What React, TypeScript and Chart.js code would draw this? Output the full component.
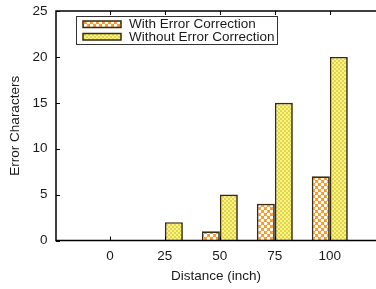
import React, { useEffect, useRef } from 'react';
import { Chart, registerables } from 'chart.js';

Chart.register(...registerables);

const categories = [0, 25, 50, 75, 100];
const withCorrection = [0, 0, 1, 4, 7];
const withoutCorrection = [0, 2, 5, 15, 20];
const yTicks = [0, 5, 10, 15, 20, 25];
const seriesLabels = ['With Error Correction', 'Without Error Correction'];
const xTitle = 'Distance (inch)';
const yTitle = 'Error Characters';

const FONT = 'Liberation Sans, Arial, sans-serif';
const TEXT = '#1a1a1a';
const BORDER = '#3a2a10';

function makeOrangePattern(): CanvasPattern | string {
  const c = document.createElement('canvas');
  c.width = 6;
  c.height = 6;
  const g = c.getContext('2d');
  if (!g) return '#f5a540';
  g.fillStyle = '#f39a28';
  g.fillRect(0, 0, 6, 6);
  g.fillStyle = '#ffffff';
  const pts = [[1.5, 1.5], [4.5, 4.5]];
  for (const [px, py] of pts) {
    g.beginPath();
    g.arc(px, py, 1.75, 0, Math.PI * 2);
    g.fill();
  }
  return g.createPattern(c, 'repeat') || '#f5a540';
}

function makeYellowPattern(): CanvasPattern | string {
  const c = document.createElement('canvas');
  c.width = 4;
  c.height = 4;
  const g = c.getContext('2d');
  if (!g) return '#e8df50';
  g.fillStyle = '#e4d836';
  g.fillRect(0, 0, 4, 4);
  g.fillStyle = '#f6f09a';
  g.fillRect(0, 0, 2, 2);
  g.fillRect(2, 2, 2, 2);
  return g.createPattern(c, 'repeat') || '#e8df50';
}

export default function App() {
  const ref = useRef<HTMLCanvasElement | null>(null);

  useEffect(() => {
    if (!ref.current) return;
    const orange = makeOrangePattern();
    const yellow = makeYellowPattern();
    const fills = [orange, yellow];

    const framePlugin = {
      id: 'frame',
      afterDraw(chart: any) {
        const { ctx, chartArea } = chart;
        const { left, top, bottom } = chartArea;
        const right = chart.width;
        const xs = chart.scales.x;
        const ys = chart.scales.y;
        ctx.save();
        ctx.strokeStyle = '#000';
        ctx.lineWidth = 1.5;
        ctx.beginPath();
        ctx.moveTo(right + 2, top);
        ctx.lineTo(left, top);
        ctx.lineTo(left, bottom);
        ctx.lineTo(right + 2, bottom);
        ctx.stroke();
        ctx.lineWidth = 1;
        ctx.beginPath();
        for (const v of yTicks) {
          const y = Math.round(ys.getPixelForValue(v)) + 0.5;
          ctx.moveTo(left, y);
          ctx.lineTo(left + 4, y);
        }
        for (const v of categories) {
          const x = Math.round(xs.getPixelForValue(v)) + 0.5;
          ctx.moveTo(x, top);
          ctx.lineTo(x, top + 4);
          ctx.moveTo(x, bottom);
          ctx.lineTo(x, bottom - 4);
        }
        ctx.stroke();

        // legend
        const bx = 76, by = 16, bw = 201, bh = 28;
        ctx.fillStyle = '#fff';
        ctx.fillRect(bx, by, bw, bh);
        ctx.strokeStyle = '#333';
        ctx.lineWidth = 1;
        ctx.strokeRect(bx + 0.5, by + 0.5, bw, bh);
        ctx.font = `13.5px ${FONT}`;
        ctx.textBaseline = 'middle';
        ctx.textAlign = 'left';
        const rows = [24, 36.5];
        seriesLabels.forEach((label, i) => {
          const cy = rows[i];
          ctx.fillStyle = fills[i] as any;
          ctx.fillRect(83, cy - 3, 38, 6.5);
          ctx.strokeStyle = BORDER;
          ctx.lineWidth = 1.5;
          ctx.strokeRect(83, cy - 3, 38, 6.5);
          ctx.fillStyle = TEXT;
          ctx.fillText(label, 129, cy + 0.5);
        });
        ctx.restore();
      },
    };

    const chart = new Chart(ref.current, {
      type: 'bar',
      data: {
        datasets: [
          {
            label: seriesLabels[0],
            data: categories.map((c, i) => ({ x: c, y: withCorrection[i] })),
            backgroundColor: orange as any,
            borderColor: BORDER,
            borderWidth: 1.7,
          },
          {
            label: seriesLabels[1],
            data: categories.map((c, i) => ({ x: c, y: withoutCorrection[i] })),
            backgroundColor: yellow as any,
            borderColor: BORDER,
            borderWidth: 1.7,
          },
        ],
      },
      options: {
        animation: false,
        responsive: false,
        maintainAspectRatio: false,
        categoryPercentage: 0.655,
        barPercentage: 1.0,
        layout: { padding: { top: 11, left: 0, right: 0, bottom: 0 } },
        plugins: {
          legend: { display: false },
          tooltip: { enabled: false },
          title: { display: false },
        },
        scales: {
          x: {
            type: 'linear',
            offset: false,
            min: -24.5,
            max: 121,
            afterBuildTicks: (s: any) => {
              s.ticks = categories.map((v) => ({ value: v }));
            },
            afterFit: (s: any) => {
              s.height = 48.5;
              s.paddingLeft = 0;
              s.paddingRight = 0;
            },
            grid: { display: false, drawTicks: false },
            border: { display: false },
            ticks: {
              padding: 8,
              autoSkip: false,
              maxRotation: 0,
              color: TEXT,
              font: { family: FONT, size: 13.5 },
              callback: (v: any) => String(v),
            },
            title: {
              display: true,
              text: xTitle,
              color: TEXT,
              font: { family: FONT, size: 13.5 },
              padding: { top: 0, bottom: 5 },
            },
          },
          y: {
            min: 0,
            max: 25,
            afterBuildTicks: (s: any) => {
              s.ticks = yTicks.map((v) => ({ value: v }));
            },
            afterFit: (s: any) => {
              s.width = 56;
              s.paddingTop = 0;
              s.paddingBottom = 0;
            },
            grid: { display: false, drawTicks: false },
            border: { display: false },
            ticks: {
              padding: 8.5,
              color: TEXT,
              font: { family: FONT, size: 13.5 },
            },
            title: {
              display: true,
              text: yTitle,
              color: TEXT,
              font: { family: FONT, size: 13.5 },
              padding: { top: 7, bottom: 0 },
            },
          },
        },
      } as any,
      plugins: [framePlugin],
    });
    return () => chart.destroy();
  }, []);

  return (
    <div style={{ position: 'fixed', left: 0, top: 0, width: 376, height: 289, background: '#fff' }}>
      <canvas ref={ref} width={376} height={289} />
    </div>
  );
}
